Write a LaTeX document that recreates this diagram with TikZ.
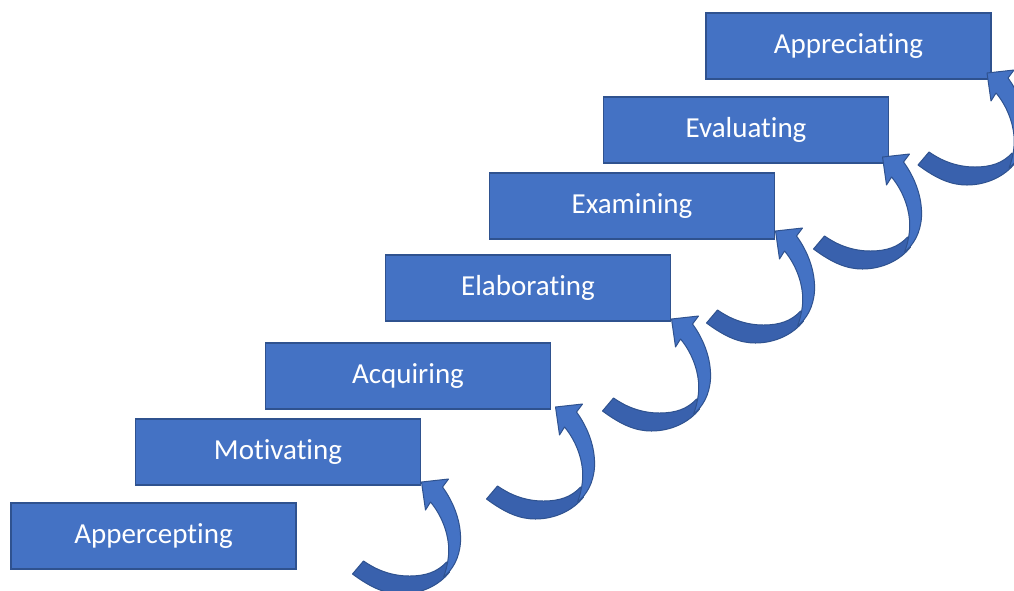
\documentclass[tikz,border=0pt]{standalone}
\usepackage{fontspec}
\setmainfont{Carlito}[Ligatures={NoCommon,NoContextual}]
\usetikzlibrary{calc}
\definecolor{stepfill}{HTML}{4472C4}
\definecolor{stepline}{HTML}{2F528F}
\definecolor{ribbonback}{HTML}{3961AD}
\tikzset{
  stepbox/.style={draw=stepline, line width=1.6pt, fill=stepfill, rectangle,
    minimum width=285pt, minimum height=66pt, inner sep=0pt, outer sep=0pt,
    text=white, font=\fontsize{29}{34}\selectfont},
  ribbonfront/.style={fill=stepfill, draw=stepline, line width=1pt, line join=round},
  ribbonbackside/.style={fill=ribbonback, draw=stepline, line width=1pt, line join=round},
  % curved ribbon arrow, origin at the arrow tip
  stairarrow/.pic={
    \path[ribbonbackside] (-69,92) .. controls (-50,106) and (-36,112) .. (-20,112)
        .. controls (0,112) and (18,103) .. (28,90) -- (25,80)
        .. controls (16,90) and (4,94) .. (-12,94)
        .. controls (-30,94) and (-45,88) .. (-58,79) -- cycle;
    \path[ribbonfront] (0,0) -- (27,-3) -- (21,5)
        .. controls (32,20) and (40,40) .. (39,60)
        .. controls (38,76) and (31,88) .. (22,95)
        .. controls (26,85) and (28,72) .. (27,63)
        .. controls (26,50) and (20,33) .. (9,20)
        -- (4,28) -- cycle;
  }
}
\begin{document}
\begin{tikzpicture}[x=1pt, y=-1pt]
  \useasboundingbox (0,0) rectangle (1014,590);
  \fill[white] (0,0) rectangle (1014,590);
  \clip (0,0) rectangle (1014,590);

  % the seven steps
  \node[stepbox] (s1) at (153.5,536) {Appercepting};
  \node[stepbox] (s2) at (278,452) {Motivating};
  \node[stepbox] (s3) at (408,376) {Acquiring};
  \node[stepbox] (s4) at (528,288) {Elaborating};
  \node[stepbox] (s5) at (632,206) {Examining};
  \node[stepbox] (s6) at (746,130) {Evaluating};
  \node[stepbox] (s7) at (848.5,46) {Appreciating};

  % arrow tips beside the lower right corner of the next step
  \coordinate (t1) at ($(s2.south east)+(1,-3)$);
  \coordinate (t2) at ($(s3.south east)+(5,-2)$);
  \coordinate (t3) at ($(s4.south east)+(1,-2)$);
  \coordinate (t4) at ($(s5.south east)+(1,-8)$);
  \coordinate (t5) at ($(s6.south east)+(-6,-6)$);
  \coordinate (t6) at ($(s7.south east)+(-4,-6)$);

  \foreach \t in {t1,t2,t3,t4,t5,t6}
    \pic at (\t) {stairarrow};
\end{tikzpicture}
\end{document}
